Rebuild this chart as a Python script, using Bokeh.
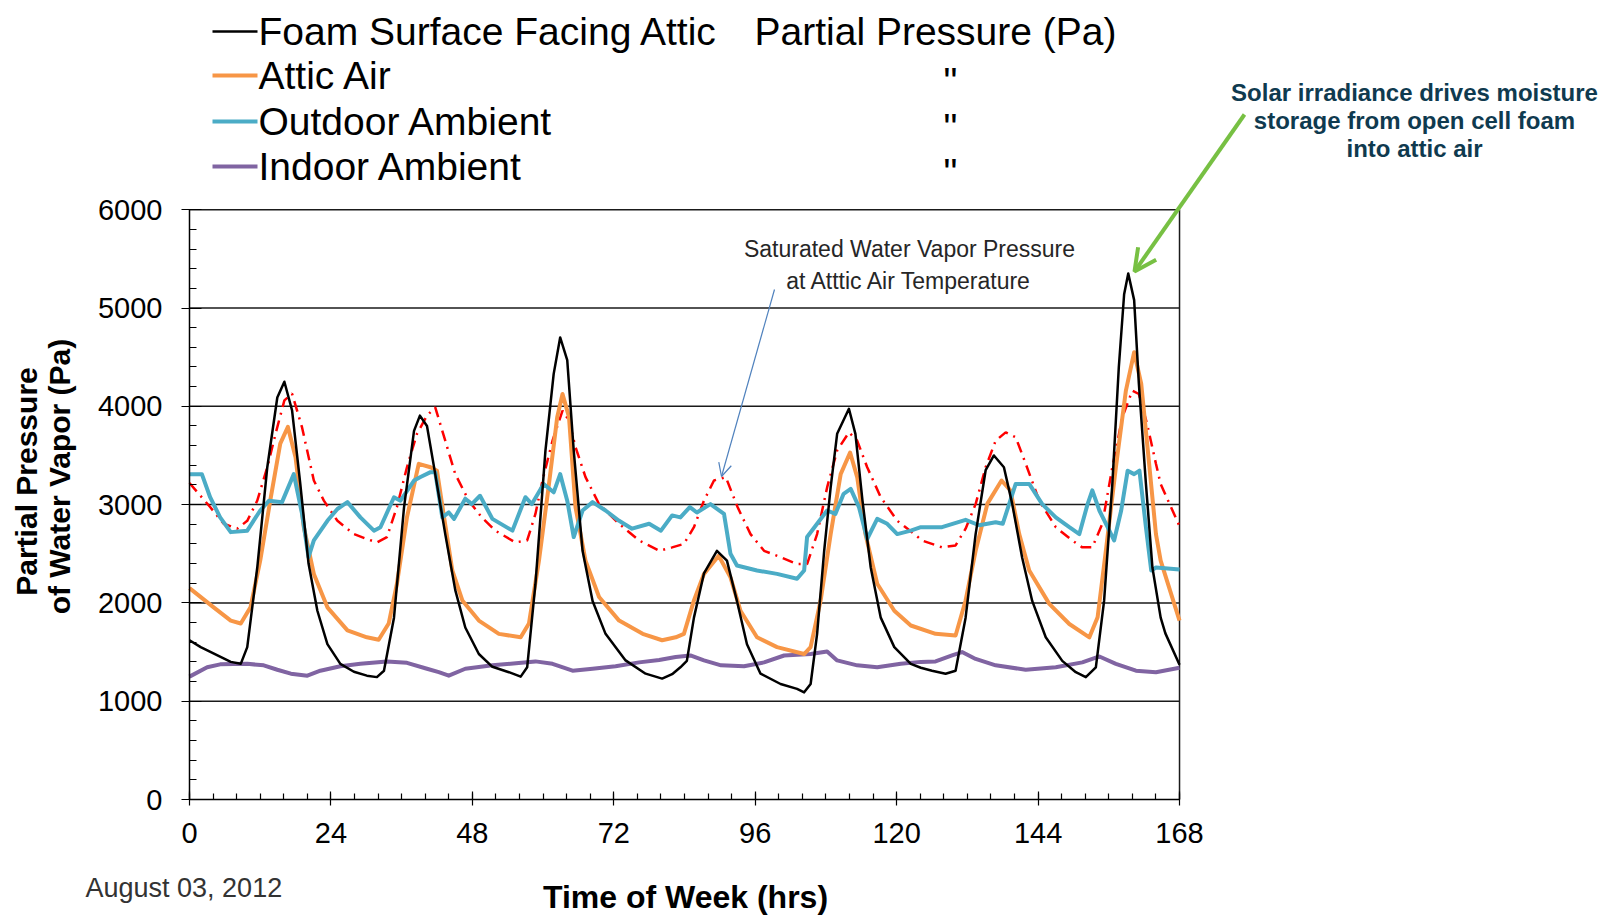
import math
from bokeh.plotting import figure
from bokeh.models import Range1d, SingleIntervalTicker, Label, Arrow, OpenHead
from bokeh.embed import file_html
from bokeh.resources import INLINE

# ---------------- data ----------------
FOAM_H = [0, 1.9, 7.0, 8.7, 9.8, 11.5, 13.2, 14.9, 16.1, 17.4, 18.8, 20.2, 21.7, 23.4, 25.6, 27.9, 30.1, 31.8,
          33.0, 34.7, 36.4, 38.1, 39.1, 40.3, 41.7, 43.4, 45.1, 46.8, 49.1, 51.4, 54.2, 56.2, 57.3, 58.7, 60.4,
          61.8, 62.9, 64.1, 65.2, 66.7, 68.4, 70.6, 74.0, 77.4, 80.2, 81.9, 83.3, 84.4, 85.6, 87.3, 89.5, 91.2,
          92.9, 94.6, 96.9, 100.3, 103.1, 104.3, 105.4, 106.5, 107.7, 108.8, 109.9, 111.9, 113.0, 114.2, 115.6,
          117.3, 119.6, 122.4, 124.1, 126.0, 128.3, 130.0, 131.7, 133.4, 135.1, 136.5, 138.2, 139.6, 141.3,
          143.0, 145.3, 148.1, 150.4, 152.1, 153.8, 155.2, 156.6, 157.7, 158.6, 159.3, 160.3, 161.1, 162.3,
          163.4, 164.8, 165.6, 168]
FOAM_PA = [1620, 1550, 1400, 1380, 1550, 2360, 3380, 4090, 4250, 3960, 3210, 2400, 1920, 1580, 1380, 1300, 1260,
           1245, 1310, 1850, 2970, 3750, 3905, 3800, 3310, 2700, 2130, 1750, 1480, 1350, 1295, 1250, 1345, 2190,
           3550, 4330, 4700, 4470, 3550, 2530, 2020, 1685, 1415, 1280, 1230, 1275, 1345, 1410, 1850, 2300, 2530,
           2430, 2020, 1580, 1280, 1175, 1125, 1090, 1175, 1685, 2530, 3175, 3720, 3975, 3720, 3040, 2360, 1850,
           1550, 1380, 1340, 1310, 1280, 1310, 1850, 2700, 3350, 3500, 3380, 3010, 2460, 2020, 1650, 1410, 1295,
           1245, 1345, 2020, 3210, 4400, 5140, 5350, 5080, 4230, 3210, 2360, 1850, 1690, 1370]

ATTIC_H = [0, 4.1, 7.0, 8.7, 10.35, 12.0, 13.7, 15.4, 16.7, 18.0, 19.4, 21.1, 23.4, 26.8, 30.1, 32.1, 33.8, 35.2,
           36.9, 38.9, 40.9, 42.0, 43.2, 44.6, 46.3, 49.1, 52.5, 56.2, 57.6, 59.3, 61.0, 62.4, 63.3, 64.4, 65.5,
           67.2, 69.5, 72.9, 76.9, 80.2, 82.5, 83.9, 85.6, 87.3, 89.8, 91.8, 93.5, 96.3, 99.7, 104.3, 105.4, 107.1,
           108.8, 110.5, 112.1, 113.3, 114.7, 116.7, 119.6, 122.4, 126.6, 130.0, 131.7, 133.4, 135.4, 137.8, 139.3,
           140.8, 142.5, 145.9, 149.3, 152.7, 154.1, 155.5, 157.2, 158.9, 160.3, 161.5, 162.9, 164.0, 164.8, 168]
ATTIC_PA = [2150, 1955, 1820, 1790, 1955, 2430, 3040, 3620, 3790, 3480, 2770, 2295, 1955, 1720, 1650, 1625, 1790,
            2195, 2870, 3415, 3380, 3345, 2870, 2330, 2025, 1820, 1685, 1650, 1790, 2430, 3210, 3890, 4125, 3890,
            2975, 2430, 2060, 1820, 1685, 1620, 1650, 1685, 2025, 2295, 2480, 2260, 1920, 1650, 1550, 1480, 1550,
            2025, 2700, 3310, 3530, 3280, 2700, 2195, 1920, 1770, 1685, 1668, 2025, 2530, 3010, 3245, 3145, 2700,
            2330, 1990, 1785, 1650, 1855, 2530, 3380, 4160, 4550, 4230, 3380, 2700, 2430, 1820]

OUTDOOR_H = [0, 2.1, 3.5, 5.2, 7.0, 9.8, 12.0, 13.5, 15.7, 17.7, 19.1, 20.2, 21.1, 23.4, 25.1, 26.8, 29.0, 31.3,
             32.4, 34.7, 35.8, 38.1, 39.2, 40.9, 41.7, 42.9, 44.0, 44.9, 46.8, 47.9, 49.3, 51.4, 54.8, 57.0, 58.1,
             60.1, 61.8, 62.9, 64.1, 65.2, 66.7, 68.4, 70.6, 72.9, 75.1, 78.0, 80.0, 81.9, 83.3, 84.9, 86.1, 88.4,
             90.7, 91.8, 92.9, 96.3, 99.7, 103.1, 104.3, 104.8, 106.5, 108.2, 109.6, 111.0, 112.2, 113.6, 115.0,
             116.7, 118.4, 120.1, 122.4, 124.1, 127.7, 131.7, 134.0, 136.8, 138.0, 140.2, 142.5, 144.7, 147.0,
             149.3, 151.0, 152.4, 153.2, 154.4, 155.8, 156.9, 158.1, 159.2, 160.3, 161.2, 162.3, 163.2, 164.0, 168]
OUTDOOR_PA = [3310, 3310, 3075, 2870, 2720, 2735, 2940, 3040, 3025, 3310, 2905, 2465, 2635, 2835, 2955, 3025, 2870,
              2735, 2770, 3075, 3040, 3245, 3280, 3330, 3330, 2870, 2920, 2855, 3060, 3005, 3090, 2855, 2735, 3075,
              3005, 3210, 3125, 3310, 3040, 2670, 2940, 3025, 2940, 2835, 2755, 2805, 2735, 2890, 2870, 2975, 2920,
              3005, 2905, 2500, 2380, 2330, 2295, 2245, 2330, 2670, 2805, 2940, 2905, 3110, 3160, 2975, 2650, 2855,
              2805, 2700, 2735, 2770, 2770, 2845, 2790, 2820, 2805, 3210, 3210, 3005, 2870, 2770, 2700, 3005, 3145,
              2940, 2770, 2635, 2940, 3345, 3310, 3345, 2770, 2330, 2360, 2340]

INDOOR_H = [0, 3.0, 5.2, 9.8, 12.6, 14.9, 17.2, 20.0, 22.2, 25.6, 29.0, 33.5, 36.9, 40.3, 42.3, 44.0, 46.8, 51.4,
            55.4, 58.7, 61.6, 65.0, 68.4, 72.3, 76.3, 79.7, 82.5, 85.0, 87.3, 90.2, 94.1, 97.5, 100.9, 105.4, 108.2,
            109.9, 113.3, 116.7, 120.7, 124.1, 126.6, 129.4, 131.1, 133.4, 136.8, 141.9, 147.0, 151.5, 154.4,
            157.2, 160.6, 164.0, 168]
INDOOR_PA = [1250, 1345, 1375, 1380, 1365, 1320, 1280, 1260, 1310, 1355, 1380, 1405, 1390, 1330, 1295, 1260, 1330,
             1365, 1385, 1405, 1380, 1310, 1330, 1355, 1395, 1420, 1450, 1465, 1415, 1365, 1355, 1395, 1465, 1480,
             1505, 1415, 1365, 1345, 1380, 1400, 1405, 1465, 1500, 1430, 1365, 1320, 1345, 1395, 1455, 1380, 1310,
             1295, 1340]

SAT_H = [0, 3.5, 5.8, 8.1, 9.8, 11.5, 13.2, 14.6, 16.1, 17.4, 19.1, 21.1, 22.8, 25.1, 27.9, 30.1, 31.8, 33.5, 35.2,
         36.9, 38.6, 40.3, 41.7, 43.4, 45.1, 47.4, 49.6, 51.9, 55.3, 57.3, 58.7, 59.9, 61.6, 63.3, 64.4, 65.5, 67.2,
         69.5, 72.9, 76.3, 79.7, 81.9, 83.9, 85.6, 87.3, 89.0, 91.0, 93.0, 95.2, 97.5, 100.3, 103.1, 104.8, 106.5,
         108.2, 109.9, 111.9, 113.3, 115.0, 117.3, 120.1, 123.0, 124.3, 127.7, 130.0, 131.7, 133.4, 135.1, 136.8,
         138.5, 140.2, 141.9, 144.2, 147.0, 149.8, 151.5, 153.2, 154.9, 156.6, 158.3, 160.0, 161.1, 162.5, 164.0,
         164.8, 168]
SAT_PA = [3220, 2975, 2805, 2755, 2835, 3040, 3380, 3720, 4060, 4130, 3785, 3245, 3040, 2835, 2700, 2650, 2615, 2670,
          2975, 3380, 3720, 3905, 3990, 3650, 3310, 3040, 2870, 2735, 2615, 2635, 2905, 3245, 3650, 3955, 3855, 3585,
          3280, 3005, 2805, 2635, 2530, 2565, 2600, 2770, 3040, 3245, 3280, 2975, 2700, 2530, 2465, 2395, 2395, 2700,
          3175, 3550, 3735, 3650, 3380, 3075, 2835, 2700, 2635, 2565, 2585, 2755, 3005, 3380, 3650, 3735, 3685, 3415,
          3040, 2770, 2635, 2565, 2565, 2805, 3380, 3890, 4160, 4125, 3820, 3415, 3210, 2780]

SERIES_NAMES = ["Foam Surface Facing Attic", "Attic Air", "Outdoor Ambient", "Indoor Ambient"]
SERIES_COLORS = ["#000000", "#f79646", "#4bacc6", "#8064a2"]
Y_TICKS = [1000, 2000, 3000, 4000, 5000, 6000]
X_MAX = 168
Y_MAX = 6000

# ---------------- layout helpers (pixel -> data) ----------------
W, H = 1602, 918
ORIGIN_PX_X, ORIGIN_PX_Y = 189, 799      # where (0 h, 0 Pa) sits on the page
PX_PER_H = 5.893
PX_PER_PA = 0.0983


def dx(px):
    return (px - ORIGIN_PX_X) / PX_PER_H


def dy(py):
    return (ORIGIN_PX_Y - py) / PX_PER_PA


FONT = "Liberation Sans"

# frame covers the whole page; axes are pinned at the data origin
p = figure(width=W, height=H, x_range=Range1d(dx(0), dx(W)), y_range=Range1d(dy(H), dy(0)),
           output_backend="svg", toolbar_location=None, min_border=0)
p.outline_line_color = None
p.xgrid.visible = False
p.ygrid.visible = False
p.background_fill_color = "white"
p.border_fill_color = "white"

p.xaxis.fixed_location = 0
p.yaxis.fixed_location = 0
p.xaxis.bounds = (0, X_MAX)
p.xaxis.ticker = SingleIntervalTicker(interval=24, num_minor_ticks=6)
p.yaxis.bounds = (0, Y_MAX)
p.yaxis.ticker = SingleIntervalTicker(interval=1000, num_minor_ticks=5)
for ax in (p.xaxis[0], p.yaxis[0]):
    ax.axis_line_color = "black"
    ax.axis_line_width = 1.5
    ax.major_tick_line_color = "black"
    ax.minor_tick_line_color = "black"
    ax.major_tick_line_width = 1.2
    ax.minor_tick_line_width = 1.2
    ax.major_label_text_font = FONT
    ax.major_label_text_font_size = "29px"
    ax.major_label_text_color = "black"
p.xaxis.major_tick_in = 8
p.xaxis.major_tick_out = 6
p.xaxis.minor_tick_in = 6
p.xaxis.minor_tick_out = 0
p.xaxis.major_label_standoff = 17
p.yaxis.major_tick_in = 12
p.yaxis.major_tick_out = 8
p.yaxis.minor_tick_in = 7
p.yaxis.minor_tick_out = 0
p.yaxis.major_label_standoff = 19

# gridlines and right border, restricted to the chart box
p.segment(x0=[0] * len(Y_TICKS), y0=Y_TICKS, x1=[X_MAX] * len(Y_TICKS), y1=Y_TICKS,
          line_color="#1a1a1a", line_width=1.5)
p.segment(x0=[X_MAX], y0=[0], x1=[X_MAX], y1=[Y_MAX], line_color="#1a1a1a", line_width=1.5)

# series
p.line(SAT_H, SAT_PA, line_color="#ff0000", line_width=2.5, line_dash="11 6 2 6")
p.line(INDOOR_H, INDOOR_PA, line_color=SERIES_COLORS[3], line_width=4, line_join="round")
p.line(ATTIC_H, ATTIC_PA, line_color=SERIES_COLORS[1], line_width=4, line_join="round")
p.line(OUTDOOR_H, OUTDOOR_PA, line_color=SERIES_COLORS[2], line_width=4, line_join="round")
p.line(FOAM_H, FOAM_PA, line_color=SERIES_COLORS[0], line_width=2.5, line_join="round")

# legend (custom, like the reference)
legend_rows_px = [31, 75, 121, 166]
swatch_widths = [2.5, 4, 4, 4]
p.segment(x0=[dx(212)] * 4, y0=[dy(r) for r in legend_rows_px], x1=[dx(257)] * 4,
          y1=[dy(r) for r in legend_rows_px], line_color=SERIES_COLORS, line_width=swatch_widths)
for name, row in zip(SERIES_NAMES, legend_rows_px):
    p.add_layout(Label(x=dx(258), y=dy(row), text=name, text_font=FONT, text_font_size="39px",
                       text_baseline="middle", text_align="left", text_color="black"))
p.add_layout(Label(x=dx(754), y=dy(legend_rows_px[0]), text="Partial Pressure (Pa)", text_font=FONT,
                   text_font_size="39px", text_baseline="middle", text_align="left", text_color="black"))
for row in legend_rows_px[1:]:
    p.add_layout(Label(x=dx(950), y=dy(row + 6), text='"', text_font=FONT, text_font_size="39px",
                       text_baseline="alphabetic", text_align="center", text_color="black"))

# saturated vapour annotation
p.add_layout(Label(x=dx(909), y=dy(248), text="Saturated Water Vapor Pressure", text_font=FONT,
                   text_font_size="23px", text_align="center", text_baseline="middle", text_color="#262626"))
p.add_layout(Label(x=dx(909), y=dy(280), text="at Atttic Air Temperature", text_font=FONT,
                   text_font_size="23px", text_align="center", text_baseline="middle", text_color="#262626"))
p.add_layout(Arrow(end=OpenHead(size=13, line_color="#4f81bd", line_width=1.2),
                   x_start=dx(774), y_start=dy(289), x_end=dx(721), y_end=dy(476),
                   line_color="#4f81bd", line_width=1.2))

# solar irradiance annotation
GREEN = "#77c043"
for txt, py in [("Solar irradiance drives moisture", 92), ("storage from open cell foam", 120),
                ("into attic air", 148)]:
    p.add_layout(Label(x=dx(1414), y=dy(py), text=txt, text_font=FONT, text_font_style="bold",
                       text_font_size="24px", text_align="center", text_baseline="middle",
                       text_color="#0f3a4f"))
p.add_layout(Arrow(end=OpenHead(size=22, line_color=GREEN, line_width=4),
                   x_start=dx(1244), y_start=dy(114), x_end=dx(1134), y_end=dy(271),
                   line_color=GREEN, line_width=4))

# axis titles and date
p.add_layout(Label(x=dx(26), y=dy(481), text="Partial Pressure", text_font=FONT, text_font_style="bold",
                   text_font_size="30px", angle=math.pi / 2, text_align="center", text_baseline="middle",
                   text_color="black"))
p.add_layout(Label(x=dx(59), y=dy(476), text="of Water Vapor (Pa)", text_font=FONT, text_font_style="bold",
                   text_font_size="30px", angle=math.pi / 2, text_align="center", text_baseline="middle",
                   text_color="black"))
p.add_layout(Label(x=dx(685), y=dy(896), text="Time of Week (hrs)", text_font=FONT, text_font_style="bold",
                   text_font_size="32px", text_align="center", text_baseline="middle", text_color="black"))
p.add_layout(Label(x=dx(85), y=dy(887), text="August 03, 2012", text_font=FONT, text_font_size="27px",
                   text_align="left", text_baseline="middle", text_color="#333333"))

open("out.html", "w").write(file_html(p, INLINE))
